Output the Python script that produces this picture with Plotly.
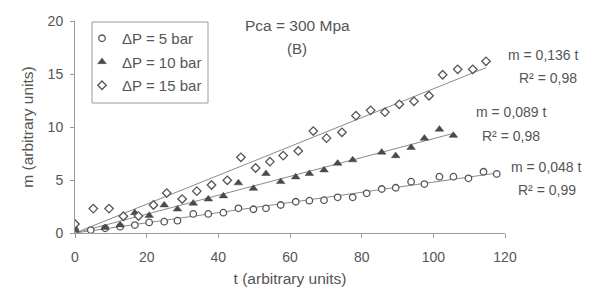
import plotly.graph_objects as go

# ---- data ----
t_5bar = [0, 4.4, 8.4, 12.6, 16.7, 20.7, 24.9, 28.6, 33.0, 37.2, 41.4, 45.6, 49.8, 53.3, 57.4,
          61.6, 65.4, 69.5, 73.3, 77.5, 81.4, 85.6, 89.5, 93.8, 97.5, 101.7, 105.6, 109.8, 114.0, 117.7]
m_5bar = [0.28, 0.28, 0.44, 0.6, 0.75, 1.0, 1.07, 1.16, 1.8, 1.8, 1.92, 2.33, 2.24, 2.33, 2.64,
          2.95, 3.05, 3.1, 3.37, 3.37, 3.74, 4.15, 4.27, 4.84, 4.62, 5.31, 5.31, 5.16, 5.78, 5.57]

t_10bar = [0, 8.4, 12.6, 16.7, 20.7, 24.9, 28.6, 33.0, 37.2, 41.4, 45.6, 49.8, 53.3, 57.4, 61.6,
           65.4, 69.5, 73.3, 77.5, 85.6, 89.5, 93.8, 97.5, 101.7, 105.6]
m_10bar = [0.3, 0.5, 0.75, 1.9, 1.65, 2.64, 2.25, 2.8, 3.2, 3.49, 4.72, 4.2, 5.6, 4.84, 5.28,
           5.6, 5.94, 6.57, 6.89, 7.61, 7.28, 8.06, 8.93, 9.78, 9.2]

t_15bar = [0, 5.1, 9.5, 13.5, 17.7, 21.9, 25.6, 29.9, 34.0, 38.1, 42.5, 46.3, 50.4, 54.4, 58.1,
           62.3, 66.5, 70.2, 74.5, 78.4, 82.5, 86.5, 90.5, 94.6, 98.8, 102.6, 106.8, 111.0, 114.7]
m_15bar = [0.85, 2.3, 2.3, 1.58, 1.6, 2.64, 3.77, 3.2, 3.95, 4.53, 4.97, 7.14, 6.13, 6.73, 7.3,
           7.74, 9.62, 8.95, 9.5, 11.07, 11.57, 11.4, 12.14, 12.42, 12.95, 14.93, 15.44, 15.44, 16.2]

series_names = ["ΔP = 5 bar", "ΔP = 10 bar", "ΔP = 15 bar"]
slopes = [0.048, 0.089, 0.136]
fit_eq = ["m = 0,048 t", "m = 0,089 t", "m = 0,136 t"]
fit_r2 = ["R² = 0,99", "R² = 0,98", "R² = 0,98"]
x_ticks = [0, 20, 40, 60, 80, 100, 120]
y_ticks = [0, 5, 10, 15, 20]

ts = [t_5bar, t_10bar, t_15bar]
ms = [m_5bar, m_10bar, m_15bar]

INK = "#555555"
FONT = "Liberation Sans, Arial, sans-serif"

# page body adds an 8px offset; figure is sized so the plot area lands on the reference one
OFF = 8
L, R, T, B = 75 - OFF, 85, 21 - OFF, 54
W, H = 590 - OFF, 287 - OFF

fig = go.Figure()

# trend lines (through origin, to last point of each series)
for t, s in zip(ts, slopes):
    fig.add_trace(go.Scatter(x=[0, t[-1]], y=[0, s * t[-1]], mode="lines",
                             line=dict(color="#8a8a8a", width=1), showlegend=False,
                             hoverinfo="skip"))

marker_styles = [
    dict(symbol="circle", size=6.5, color="white", line=dict(color=INK, width=1.3)),
    dict(symbol="triangle-up", size=7.5, color="#4a4a4a", line=dict(color="#4a4a4a", width=0.5)),
    dict(symbol="diamond", size=6.5, color="white", line=dict(color=INK, width=1.3)),
]
for i, (t, m) in enumerate(zip(ts, ms)):
    fig.add_trace(go.Scatter(x=t, y=m, mode="markers", name=series_names[i],
                             marker=marker_styles[i], legendgroup=f"g{i}"))

def px(xp):
    return (xp - 75) / 430

def py(yp):
    return (233 - yp) / 212

def label(xp, yp, txt, size):
    return dict(x=px(xp), y=py(yp), xref="paper", yref="paper", text=txt, showarrow=False,
                font=dict(size=size, color=INK, family=FONT),
                xanchor="center", yanchor="middle")

annos = [label(297, 25, "Pca = 300 Mpa", 15.5), label(297, 48, "(B)", 15)]
eq_pos = [(546, 167), (511, 112), (543, 55)]
r2_pos = [(547, 190), (511, 136), (548, 78)]
for (ex, ey), (rx, ry), e, r in zip(eq_pos, r2_pos, fit_eq, fit_r2):
    annos.append(label(ex, ey, e, 14))
    annos.append(label(rx, ry, r, 14))

fig.update_layout(
    width=W, height=H,
    margin=dict(l=L, r=R, t=T, b=B, autoexpand=False),
    paper_bgcolor="white", plot_bgcolor="white",
    font=dict(family=FONT, size=14, color=INK),
    showlegend=True,
    legend=dict(x=px(82), y=py(22), xanchor="left", yanchor="top",
                borderwidth=0, bgcolor="rgba(0,0,0,0)",
                font=dict(size=15, color=INK, family=FONT),
                tracegroupgap=1, itemwidth=30),
    shapes=[dict(type="rect", xref="paper", yref="paper",
                 x0=px(92), x1=px(208), y0=py(103), y1=py(22),
                 line=dict(color="#9a9a9a", width=1), fillcolor="white", layer="above")],
    annotations=annos,
    xaxis=dict(range=[0, 120], tickvals=x_ticks, showgrid=False, zeroline=False,
               showline=True, linecolor="#9a9a9a", linewidth=1, automargin=False,
               ticks="outside", ticklen=4, tickcolor="#9a9a9a", ticklabelstandoff=7,
               tickfont=dict(size=14, color=INK),
               title=dict(text="t (arbitrary units)", font=dict(size=15.5, color=INK), standoff=10)),
    yaxis=dict(range=[0, 20], tickvals=y_ticks, showgrid=False, zeroline=False,
               showline=True, linecolor="#9a9a9a", linewidth=1, automargin=False,
               ticks="outside", ticklen=4, tickcolor="#9a9a9a", ticklabelstandoff=4,
               tickfont=dict(size=14, color=INK),
               title=dict(text="m (arbitrary units)", font=dict(size=15.5, color=INK), standoff=10)),
)

fig.write_html("out.html")
